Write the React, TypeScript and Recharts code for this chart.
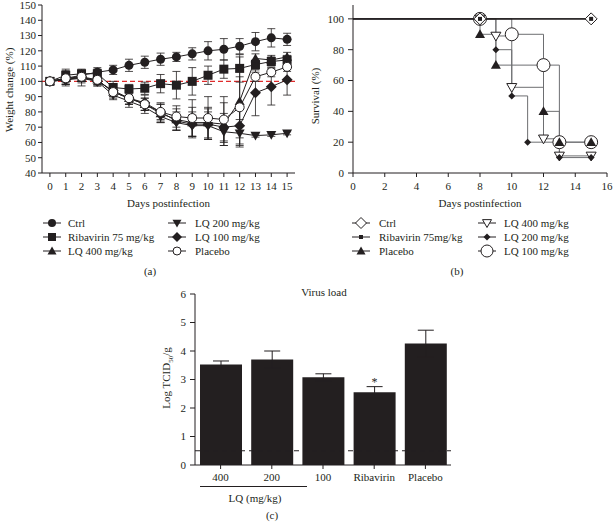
import React from "react";
import {
  LineChart,
  Line,
  BarChart,
  Bar,
  XAxis,
  YAxis,
  ErrorBar,
  ReferenceLine,
  LabelList,
} from "recharts";

const INK = "#231f20";
const GREY = "#6d6e71";
const FONT = "'Liberation Serif', 'DejaVu Serif', serif";

// (a) weight change, % of day 0
const days = [0, 1, 2, 3, 4, 5, 6, 7, 8, 9, 10, 11, 12, 13, 14, 15];
const ctrlW = [100, 102, 104, 106, 107.5, 110.5, 112.5, 114.5, 116, 118, 120, 121, 123, 126, 128.5, 127.5];
const ctrlErr = [1, 5, 3, 3, 3, 4, 4, 4, 3, 4, 6, 7, 5, 6, 6, 4];
const ribW = [100, 104, 105, 105, 96, 95, 95.5, 98.5, 97.5, 100, 104, 108, 108.5, 111, 113, 114];
const ribErr = [1, 4, 3, 3, 4, 3, 4, 6, 9, 9, 6, 6, 9, 3, 3, 3];
const lq400W = [100, 102, 102, 101, 93, 89, 85, 79, 75, 73, 73, 72, 87, 115, 114, 116];
const lq400Err = [1, 4, 5, 3, 4, 4, 4, 6, 7, 10, 10, 14, 29, 3, 3, 3];
const lq200W = [100, 101, 102, 100, 91, 87, 83, 77, 73, 71, 71, 67, 66, 64.5, 65, 66];
const lq200Err = [1, 3, 3, 3, 3, 4, 4, 4, 5, 7, 9, 9, 9, 1, 1, 1];
const lq100W = [100, 101, 103, 100, 94, 89, 86, 80, 74, 72, 72, 70, 71, 92.5, 96.5, 101];
const lq100Err = [1, 3, 3, 3, 4, 4, 5, 6, 6, 8, 10, 9, 12, 15, 12, 10];
const placeboW = [100, 102, 103, 101, 93, 89, 85, 80, 77, 76, 76, 75, 83, 103, 106, 109.5];
const placeboErr = [1, 3, 3, 3, 3, 4, 4, 5, 7, 12, 14, 15, 20, 3, 3, 3];
const weightTicks = [40, 50, 60, 70, 80, 90, 100, 110, 120, 130, 140, 150];

// (b) survival, %
const survCtrlDays = [0, 8, 15];
const survCtrl = [100, 100, 100];
const survRibDays = [0, 8, 15];
const survRib = [100, 100, 100];
const survPlaceboDays = [0, 8, 9, 12, 13, 15];
const survPlacebo = [100, 90, 70, 40, 20, 20];
const survLq400Days = [0, 8, 9, 10, 12, 13, 15];
const survLq400 = [100, 100, 88.9, 55.6, 22.2, 11.1, 11.1];
const survLq200Days = [0, 8, 9, 10, 11, 13, 15];
const survLq200 = [100, 100, 80, 50, 20, 10, 10];
const survLq100Days = [0, 8, 10, 12, 13, 15];
const survLq100 = [100, 100, 90, 70, 20, 20];

// (c) virus load, log TCID50/g
const groups = ["400", "200", "100", "Ribavirin", "Placebo"];
const load = [3.53, 3.7, 3.08, 2.55, 4.26];
const loadErr = [0.12, 0.3, 0.12, 0.2, 0.47];
const stars = ["", "", "", "*", ""];

const weightData = days.map((d, i) => ({
  day: d,
  ctrl: ctrlW[i], ctrlE: ctrlErr[i],
  rib: ribW[i], ribE: ribErr[i],
  lq400: lq400W[i], lq400E: lq400Err[i],
  lq200: lq200W[i], lq200E: lq200Err[i],
  lq100: lq100W[i], lq100E: lq100Err[i],
  placebo: placeboW[i], placeboE: placeboErr[i],
}));

const toRows = (xs: number[], ys: number[]) => xs.map((d, i) => ({ day: d, v: ys[i] }));
const loadData = groups.map((g, i) => ({ name: g, v: load[i], err: loadErr[i], star: stars[i] }));

function mark(shape: string, cx: number, cy: number, s: number) {
  const h = s / 2;
  switch (shape) {
    case "circle":
      return <circle cx={cx} cy={cy} r={h} fill={INK} />;
    case "ocircle":
      return <circle cx={cx} cy={cy} r={h} fill="#fff" stroke={INK} strokeWidth={1} />;
    case "square":
      return <rect x={cx - h} y={cy - h} width={s} height={s} fill={INK} />;
    case "tri":
      return <polygon points={`${cx},${cy - h} ${cx + h},${cy + h * 0.75} ${cx - h},${cy + h * 0.75}`} fill={INK} />;
    case "triDown":
      return <polygon points={`${cx},${cy + h} ${cx + h},${cy - h * 0.75} ${cx - h},${cy - h * 0.75}`} fill={INK} />;
    case "otriDown":
      return (
        <polygon
          points={`${cx},${cy + h} ${cx + h},${cy - h * 0.75} ${cx - h},${cy - h * 0.75}`}
          fill="#fff"
          stroke={INK}
          strokeWidth={1}
        />
      );
    case "diamond":
      return <polygon points={`${cx},${cy - h} ${cx + h},${cy} ${cx},${cy + h} ${cx - h},${cy}`} fill={INK} />;
    case "odiamond":
      return (
        <polygon
          points={`${cx},${cy - h} ${cx + h},${cy} ${cx},${cy + h} ${cx - h},${cy}`}
          fill="#fff"
          stroke={INK}
          strokeWidth={1}
        />
      );
    default:
      return null;
  }
}

const dotOf = (shape: string, size: number, skipZero = false) => (p: any) => (
  <g key={`d-${shape}-${p.index}`}>
    {skipZero && p.payload && p.payload.day === 0 ? null : mark(shape, p.cx, p.cy, size)}
  </g>
);

const weightSeries = [
  { key: "ctrl", shape: "circle", size: 9 },
  { key: "rib", shape: "square", size: 9 },
  { key: "lq400", shape: "tri", size: 10 },
  { key: "lq200", shape: "triDown", size: 10 },
  { key: "lq100", shape: "diamond", size: 11 },
  { key: "placebo", shape: "ocircle", size: 9 },
];

const tickStyle = { fontSize: 11, fill: INK, fontFamily: FONT };

function Txt({ x, y, children, rotate = false, size = 11 }: any) {
  return (
    <div
      style={{
        position: "absolute",
        left: x,
        top: y,
        transform: `translate(-50%, -50%)${rotate ? " rotate(-90deg)" : ""}`,
        whiteSpace: "nowrap",
        fontFamily: FONT,
        fontSize: size,
        color: INK,
        lineHeight: 1,
      }}
    >
      {children}
    </div>
  );
}

function Key({ x, y, tx, shape, size, label, w = 18 }: any) {
  return (
    <>
      <svg style={{ position: "absolute", left: x, top: y - 8 }} width={w} height={16}>
        <line x1={0} y1={8} x2={w} y2={8} stroke={INK} strokeWidth={1} />
        {mark(shape, w / 2, 8, size)}
      </svg>
      <div
        style={{
          position: "absolute",
          left: tx,
          top: y - 7,
          fontFamily: FONT,
          fontSize: 11,
          color: INK,
          lineHeight: "14px",
          whiteSpace: "nowrap",
        }}
      >
        {label}
      </div>
    </>
  );
}

function WeightChart() {
  return (
    <LineChart width={300} height={212} data={weightData} margin={{ top: 5, right: 5, left: 0, bottom: 0 }}>
      <XAxis
        type="number"
        dataKey="day"
        domain={[-0.5, 15.5]}
        ticks={days}
        interval={0}
        height={39}
        tick={tickStyle}
        tickSize={4}
        tickMargin={5}
        stroke={INK}
        label={{ value: "Days postinfection", position: "insideBottom", offset: 5, style: tickStyle }}
      />
      <YAxis
        type="number"
        domain={[40, 150]}
        ticks={weightTicks}
        width={42}
        tick={tickStyle}
        tickSize={4}
        stroke={INK}
        interval={0}
      />
      <ReferenceLine y={100} stroke="#e02b2b" strokeDasharray="5 3" strokeWidth={1.2} />
      {weightSeries.map((s) => (
        <Line
          key={s.key}
          dataKey={s.key}
          stroke={INK}
          strokeWidth={1}
          dot={dotOf(s.shape, s.size)}
          isAnimationActive={false}
        >
          <ErrorBar dataKey={`${s.key}E`} width={4} stroke={INK} strokeWidth={0.8} direction="y" />
        </Line>
      ))}
    </LineChart>
  );
}

function SurvivalChart() {
  return (
    <LineChart width={313} height={212} margin={{ top: 5, right: 6, left: 0, bottom: 0 }}>
      <XAxis
        type="number"
        dataKey="day"
        domain={[0, 16]}
        ticks={[0, 2, 4, 6, 8, 10, 12, 14, 16]}
        interval={0}
        height={39}
        tick={tickStyle}
        tickSize={4}
        tickMargin={5}
        stroke={INK}
        allowDuplicatedCategory={false}
        label={{ value: "Days postinfection", position: "insideBottom", offset: 5, style: tickStyle }}
      />
      <YAxis
        type="number"
        domain={[0, 109]}
        ticks={[0, 20, 40, 60, 80, 100]}
        width={53}
        tick={tickStyle}
        tickSize={5}
        tickMargin={4}
        stroke={INK}
      />
      <Line data={toRows(survLq100Days, survLq100)} dataKey="v" type="stepAfter" stroke={GREY} strokeWidth={1}
        dot={dotOf("ocircle", 13, true)} isAnimationActive={false} />
      <Line data={toRows(survLq400Days, survLq400)} dataKey="v" type="stepAfter" stroke={GREY} strokeWidth={1}
        dot={dotOf("otriDown", 10, true)} isAnimationActive={false} />
      <Line data={toRows(survPlaceboDays, survPlacebo)} dataKey="v" type="stepAfter" stroke={GREY} strokeWidth={1}
        dot={dotOf("tri", 10, true)} isAnimationActive={false} />
      <Line data={toRows(survLq200Days, survLq200)} dataKey="v" type="stepAfter" stroke={GREY} strokeWidth={1}
        dot={dotOf("diamond", 7, true)} isAnimationActive={false} />
      <Line data={toRows(survCtrlDays, survCtrl)} dataKey="v" type="stepAfter" stroke={INK} strokeWidth={1.2}
        dot={dotOf("odiamond", 12, true)} isAnimationActive={false} />
      <Line data={toRows(survRibDays, survRib)} dataKey="v" type="stepAfter" stroke={INK} strokeWidth={1.2}
        dot={dotOf("square", 4, true)} isAnimationActive={false} />
    </LineChart>
  );
}

function LoadChart() {
  return (
    <BarChart width={313} height={242} data={loadData} margin={{ top: 14, right: 12, left: 0, bottom: 0 }} barSize={42}>
      <XAxis dataKey="name" height={57} tick={tickStyle} tickSize={4} tickMargin={4} stroke={INK} interval={0} />
      <YAxis
        type="number"
        domain={[0, 6]}
        ticks={[0, 1, 2, 3, 4, 5, 6]}
        width={45}
        tick={tickStyle}
        tickSize={5}
        tickMargin={4}
        stroke={INK}
      />
      <ReferenceLine y={0.5} stroke={INK} strokeDasharray="5 4" strokeWidth={1} />
      <Bar dataKey="v" fill={INK} isAnimationActive={false}>
        <ErrorBar dataKey="err" width={8} stroke={INK} strokeWidth={1} direction="y" />
        <LabelList dataKey="star" position="top" offset={6} style={{ ...tickStyle, fontSize: 12 }} />
      </Bar>
    </BarChart>
  );
}

export default function App() {
  return (
    <div
      style={{
        position: "absolute",
        left: 0,
        top: 0,
        width: 613,
        height: 522,
        background: "#fff",
        overflow: "hidden",
      }}
    >
      <div style={{ position: "absolute", left: 0, top: 0 }}>
        <WeightChart />
      </div>
      <Txt x={9} y={90} rotate>Weight change (%)</Txt>
      <Key x={43} y={223} tx={68} shape="circle" size={8} label="Ctrl" />
      <Key x={43} y={237} tx={68} shape="square" size={8} label="Ribavirin 75 mg/kg" />
      <Key x={43} y={251} tx={68} shape="tri" size={9} label="LQ 400 mg/kg" />
      <Key x={168} y={223} tx={195} shape="triDown" size={9} label="LQ 200 mg/kg" />
      <Key x={168} y={237} tx={195} shape="diamond" size={10} label="LQ 100 mg/kg" />
      <Key x={168} y={251} tx={195} shape="ocircle" size={8} label="Placebo" />
      <Txt x={150} y={271}>(a)</Txt>

      <div style={{ position: "absolute", left: 300, top: 0 }}>
        <SurvivalChart />
      </div>
      <Txt x={315} y={96} rotate>Survival (%)</Txt>
      <Key x={352} y={223} tx={379} shape="odiamond" size={11} label="Ctrl" />
      <Key x={352} y={237} tx={379} shape="square" size={4} label="Ribavirin 75mg/kg" />
      <Key x={352} y={251} tx={379} shape="tri" size={9} label="Placebo" />
      <Key x={478} y={223} tx={504} shape="otriDown" size={9} label="LQ 400 mg/kg" />
      <Key x={478} y={237} tx={504} shape="diamond" size={7} label="LQ 200 mg/kg" />
      <Key x={478} y={251} tx={504} shape="ocircle" size={12} label="LQ 100 mg/kg" />
      <Txt x={457} y={271}>(b)</Txt>

      <Txt x={324} y={292}>Virus load</Txt>
      <div style={{ position: "absolute", left: 150, top: 280 }}>
        <LoadChart />
      </div>
      <Txt x={168} y={378} rotate>
        Log TCID<sub style={{ fontSize: 7 }}>50</sub>/g
      </Txt>
      <div style={{ position: "absolute", left: 200, top: 486, width: 107, height: 1, background: INK }} />
      <Txt x={255} y={498}>LQ (mg/kg)</Txt>
      <Txt x={272} y={515}>(c)</Txt>
    </div>
  );
}
